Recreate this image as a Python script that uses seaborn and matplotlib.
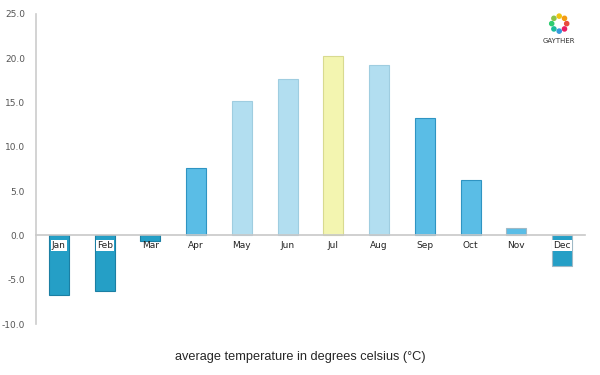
import numpy as np
import pandas as pd
import seaborn as sns
import matplotlib.pyplot as plt

months = ['Jan', 'Feb', 'Mar', 'Apr', 'May', 'Jun', 'Jul', 'Aug', 'Sep', 'Oct', 'Nov', 'Dec']
temps = [-6.7, -6.3, -0.6, 7.6, 15.2, 17.7, 20.3, 19.2, 13.3, 6.3, 0.8, -3.4]
bar_colors = ['#259fc6', '#259fc6', '#259fc6', '#5abde6', '#b2def0', '#b2def0',
              '#f3f5b0', '#b2def0', '#5abde6', '#5abde6', '#5abde6', '#259fc6']
edge_colors = ['#1b7fa3', '#1b7fa3', '#1b7fa3', '#2f94c2', '#9fcde0', '#9fcde0',
               '#d8da90', '#9fcde0', '#2f94c2', '#2f94c2', '#9fb9c6', '#9fb9c6']
yticks = [-10, -5, 0, 5, 10, 15, 20, 25]

df = pd.DataFrame({'month': months, 'temp': temps})

sns.set_style('white')
plt.rcParams['font.family'] = ['DejaVu Sans']

fig = plt.figure(figsize=(6, 3.75), dpi=100)
ax = fig.add_axes([0.06, 0.136, 0.915, 0.827])

sns.barplot(data=df, x='month', y='temp', hue='month', palette=bar_colors,
            legend=False, width=0.44, ax=ax, saturation=1)
for patch, ec in zip(ax.patches, edge_colors):
    patch.set_edgecolor(ec)
    patch.set_linewidth(0.8)

ax.set_ylim(-10, 25)
ax.set_xlim(-0.5, 11.5)
ax.set_yticks(yticks)
ax.set_yticklabels([f'{v:.1f}' for v in yticks], fontsize=6.5, color='#555555')
ax.set_xlabel('')
ax.set_ylabel('')

for s in ['top', 'right']:
    ax.spines[s].set_visible(False)
ax.spines['left'].set_color('#cccccc')
ax.spines['left'].set_linewidth(1.2)
ax.spines['bottom'].set_position(('data', 0))
ax.spines['bottom'].set_color('#c8c8c8')
ax.spines['bottom'].set_linewidth(1.2)
ax.tick_params(axis='both', length=0)
ax.tick_params(axis='x', pad=4, labelsize=6.5, labelcolor='#222222')
ax.tick_params(axis='y', pad=8)
ax.set_axisbelow(False)
ax.xaxis.set_zorder(5)

for lbl, t in zip(ax.get_xticklabels(), temps):
    if t < -2:
        lbl.set_bbox(dict(facecolor='white', edgecolor='none', pad=0.8))

fig.text(0.5, 0.048, 'average temperature in degrees celsius (\u00b0C)',
         ha='center', va='center', fontsize=9.2, family='Liberation Sans')

# logo
fig.text(0.932, 0.89, 'GAYTHER', ha='center', va='center', fontsize=5, color='#333333')
logo = fig.add_axes([0.912, 0.905, 0.04, 0.064])
ang = np.linspace(0, 2 * np.pi, 9)[:-1]
logo_cols = ['#e84c3d', '#f39c12', '#f1c40f', '#8bc34a', '#2ecc71', '#1abc9c', '#3498db', '#e91e63']
logo.scatter(np.cos(ang), np.sin(ang), c=logo_cols, s=9)
logo.set_xlim(-1.6, 1.6)
logo.set_ylim(-1.6, 1.6)
logo.axis('off')

fig.savefig('out.png', dpi=100)
